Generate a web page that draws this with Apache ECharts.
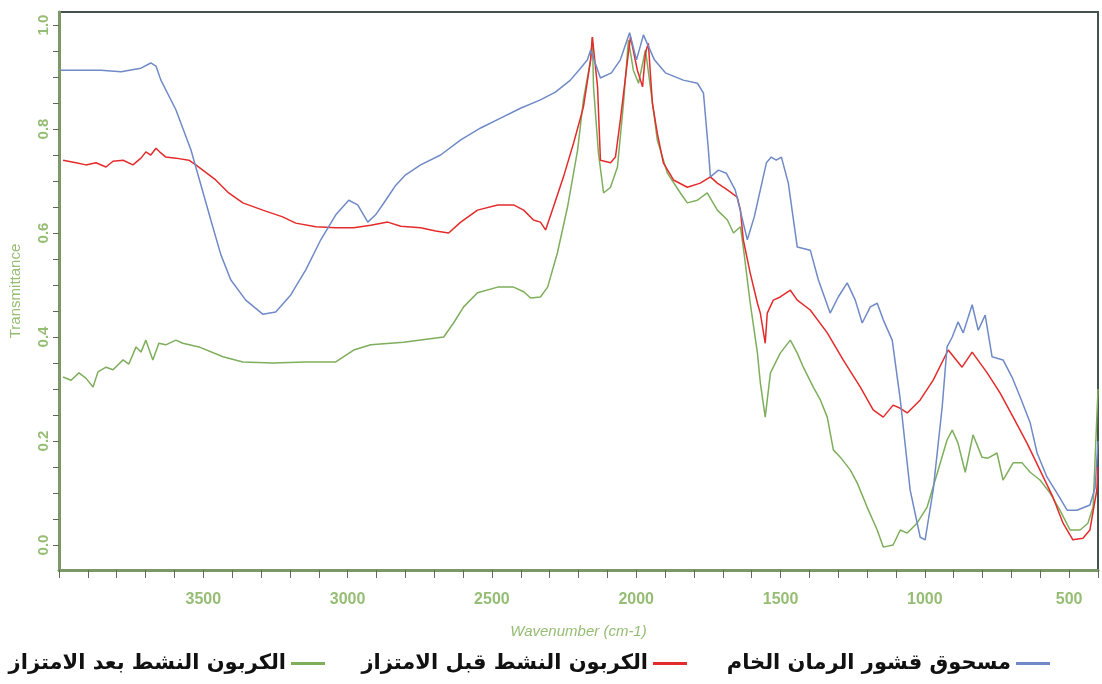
<!DOCTYPE html>
<html>
<head>
<meta charset="utf-8">
<script src="https://cdn.jsdelivr.net/npm/echarts@6/dist/echarts.min.js"></script>
<style>html,body{margin:0;padding:0;background:#fff;}#chart{width:1102px;height:684px;}</style>
</head>
<body>
<div id="chart"></div>
<script>
// Series names (legend)
const seriesNames = ['مسحوق قشور الرمان الخام', 'الكربون النشط قبل الامتزاز', 'الكربون النشط بعد الامتزاز'];
const xLabels = [3500, 3000, 2500, 2000, 1500, 1000, 500];
const yLabels = [0.0, 0.2, 0.4, 0.6, 0.8, 1.0];

// Blue: raw pomegranate peel powder
const wnBlue = [3993,3855,3785,3716,3682,3664,3647,3595,3543,3508,3474,3439,3405,3353,3294,3249,3197,3145,3093,3041,2996,2965,2930,2903,2868,2833,2799,2747,2678,2608,2539,2470,2401,2332,2280,2228,2193,2169,2158,2124,2086,2055,2023,1999,1975,1937,1899,1837,1788,1767,1750,1743,1715,1688,1657,1615,1591,1549,1532,1515,1497,1473,1442,1397,1369,1328,1300,1269,1241,1217,1189,1165,1144,1113,1085,1051,1016,999,971,940,923,905,885,867,836,815,791,767,729,698,670,635,611,577,542,507,473,428,410,400];
const tBlue = [0.913,0.913,0.910,0.917,0.927,0.921,0.894,0.837,0.760,0.692,0.625,0.558,0.510,0.471,0.444,0.448,0.481,0.529,0.587,0.635,0.663,0.654,0.621,0.635,0.663,0.692,0.712,0.731,0.750,0.779,0.802,0.821,0.840,0.856,0.871,0.894,0.917,0.933,0.952,0.898,0.908,0.933,0.985,0.933,0.981,0.933,0.908,0.894,0.888,0.869,0.760,0.708,0.721,0.715,0.683,0.587,0.631,0.735,0.746,0.740,0.746,0.696,0.573,0.567,0.510,0.446,0.477,0.504,0.471,0.427,0.458,0.465,0.433,0.394,0.279,0.106,0.015,0.010,0.106,0.265,0.381,0.400,0.429,0.408,0.462,0.413,0.442,0.362,0.356,0.323,0.285,0.235,0.177,0.131,0.100,0.067,0.067,0.077,0.110,0.200];

// Red: activated carbon before adsorption
const wnRed = [3986,3941,3907,3872,3837,3813,3778,3744,3716,3699,3682,3664,3647,3630,3595,3550,3526,3457,3412,3363,3294,3225,3180,3110,3041,2979,2920,2861,2816,2747,2695,2650,2608,2550,2480,2425,2390,2356,2332,2314,2287,2252,2217,2183,2158,2152,2134,2124,2089,2072,2055,2030,2020,1996,1978,1968,1958,1944,1927,1906,1871,1823,1778,1743,1719,1684,1650,1639,1629,1605,1580,1570,1553,1546,1525,1501,1466,1442,1397,1338,1283,1224,1179,1144,1110,1085,1061,1016,971,919,871,836,784,739,694,646,601,556,521,487,452,428,404,400];
const tRed = [0.740,0.735,0.731,0.735,0.727,0.738,0.740,0.731,0.744,0.756,0.750,0.763,0.754,0.746,0.744,0.740,0.731,0.702,0.677,0.658,0.644,0.631,0.619,0.612,0.610,0.610,0.615,0.621,0.613,0.610,0.604,0.600,0.621,0.644,0.654,0.654,0.644,0.625,0.621,0.606,0.650,0.708,0.773,0.842,0.933,0.977,0.881,0.740,0.735,0.746,0.817,0.933,0.977,0.913,0.881,0.946,0.965,0.850,0.792,0.735,0.702,0.688,0.696,0.708,0.696,0.683,0.669,0.644,0.587,0.523,0.465,0.446,0.388,0.446,0.471,0.477,0.490,0.471,0.452,0.408,0.356,0.304,0.260,0.246,0.269,0.263,0.254,0.279,0.317,0.375,0.342,0.371,0.331,0.292,0.246,0.196,0.144,0.092,0.042,0.010,0.013,0.029,0.106,0.150];

// Green: activated carbon after adsorption
const wnGreen = [3986,3958,3931,3907,3882,3865,3837,3813,3778,3758,3733,3716,3699,3675,3654,3630,3595,3571,3515,3432,3363,3259,3145,3041,2979,2920,2806,2667,2633,2598,2550,2480,2425,2390,2366,2332,2307,2273,2238,2203,2183,2158,2152,2148,2131,2113,2089,2065,2044,2027,2010,1992,1968,1951,1927,1892,1847,1823,1788,1754,1719,1684,1663,1639,1629,1605,1580,1570,1553,1535,1501,1466,1442,1421,1387,1362,1338,1317,1293,1258,1234,1200,1165,1144,1110,1085,1061,1027,992,957,923,905,885,860,833,802,781,750,729,694,663,635,601,566,532,497,462,435,417,400];
const tGreen = [0.323,0.317,0.331,0.321,0.304,0.333,0.342,0.337,0.356,0.348,0.381,0.371,0.394,0.356,0.388,0.385,0.394,0.388,0.381,0.362,0.352,0.350,0.352,0.352,0.375,0.385,0.390,0.400,0.427,0.458,0.485,0.496,0.496,0.487,0.475,0.477,0.496,0.562,0.650,0.760,0.856,0.933,0.977,0.881,0.754,0.677,0.688,0.727,0.850,0.971,0.913,0.888,0.952,0.881,0.779,0.715,0.677,0.658,0.663,0.677,0.644,0.625,0.600,0.612,0.573,0.465,0.369,0.312,0.246,0.331,0.369,0.394,0.369,0.342,0.304,0.279,0.246,0.183,0.169,0.144,0.119,0.073,0.029,-0.004,0.000,0.029,0.023,0.042,0.073,0.138,0.202,0.221,0.196,0.140,0.212,0.169,0.167,0.177,0.125,0.158,0.158,0.140,0.125,0.100,0.067,0.029,0.029,0.042,0.073,0.300];

const zip = (a, b) => a.map((w, i) => [w, b[i]]);
const xTicks = []; for (let w = 400; w <= 4000; w += 100) xTicks.push(w);
const yTicks = []; for (let k = 0; k <= 20; k++) yTicks.push(+(k * 0.05).toFixed(2));

const colBlue = '#6f8ac6', colRed = '#e42b2b', colGreen = '#7eae5c';
const labelCol = '#96bd74';

const chart = echarts.init(document.getElementById('chart'), null, {renderer: 'canvas'});
const legendText = {fontFamily: 'DejaVu Sans', fontWeight: 'bold', fontSize: 21, color: '#111'};
const mkLegend = (name, right) => ({
  data: [name], right: right, top: 648, align: 'right', orient: 'horizontal',
  icon: 'rect', itemWidth: 34, itemHeight: 3, itemGap: 0, textStyle: legendText,
  selectedMode: false
});
chart.setOption({
  backgroundColor: '#fff',
  animation: false,
  grid: {left: 58, top: 12, right: 4, bottom: 114, show: true, borderColor: '#46524c', borderWidth: 2, backgroundColor: '#fff'},
  legend: [mkLegend(seriesNames[0], 47), mkLegend(seriesNames[1], 410), mkLegend(seriesNames[2], 772)],
  xAxis: {
    type: 'value', inverse: true, min: 400, max: 4000,
    name: 'Wavenumber (cm-1)', nameLocation: 'middle', nameGap: 54,
    nameTextStyle: {color: labelCol, fontStyle: 'italic', fontSize: 15, fontFamily: 'Liberation Sans'},
    axisLine: {onZero: false, lineStyle: {color: '#7c9868', width: 3}},
    axisTick: {show: true, length: 8, customValues: xTicks, lineStyle: {color: '#5c6a56', width: 1}},
    axisLabel: {customValues: xLabels, margin: 22, color: labelCol, fontSize: 16, fontWeight: 'bold', fontFamily: 'Liberation Sans', formatter: v => String(v)},
    splitLine: {show: false}
  },
  yAxis: {
    type: 'value', min: -0.048, max: 1.025,
    name: 'Transmittance', nameLocation: 'middle', nameGap: 36, nameRotate: 90,
    nameTextStyle: {color: labelCol, fontSize: 15, fontFamily: 'Liberation Sans'},
    axisLine: {show: true, onZero: false, lineStyle: {color: '#7c9868', width: 3}},
    axisTick: {show: true, length: 6, customValues: yTicks, lineStyle: {color: '#5c6a56', width: 1}},
    axisLabel: {customValues: yLabels, rotate: 90, margin: 8, color: labelCol, fontSize: 15, fontWeight: 'bold', fontFamily: 'Liberation Sans', formatter: v => v.toFixed(1)},
    splitLine: {show: false}
  },
  series: [
    {name: seriesNames[2], type: 'line', data: zip(wnGreen, tGreen), showSymbol: false, lineStyle: {color: colGreen, width: 1.5}, itemStyle: {color: colGreen}},
    {name: seriesNames[1], type: 'line', data: zip(wnRed, tRed), showSymbol: false, lineStyle: {color: colRed, width: 1.5}, itemStyle: {color: colRed}},
    {name: seriesNames[0], type: 'line', data: zip(wnBlue, tBlue), showSymbol: false, lineStyle: {color: colBlue, width: 1.5}, itemStyle: {color: colBlue}}
  ]
});
</script>
</body>
</html>
